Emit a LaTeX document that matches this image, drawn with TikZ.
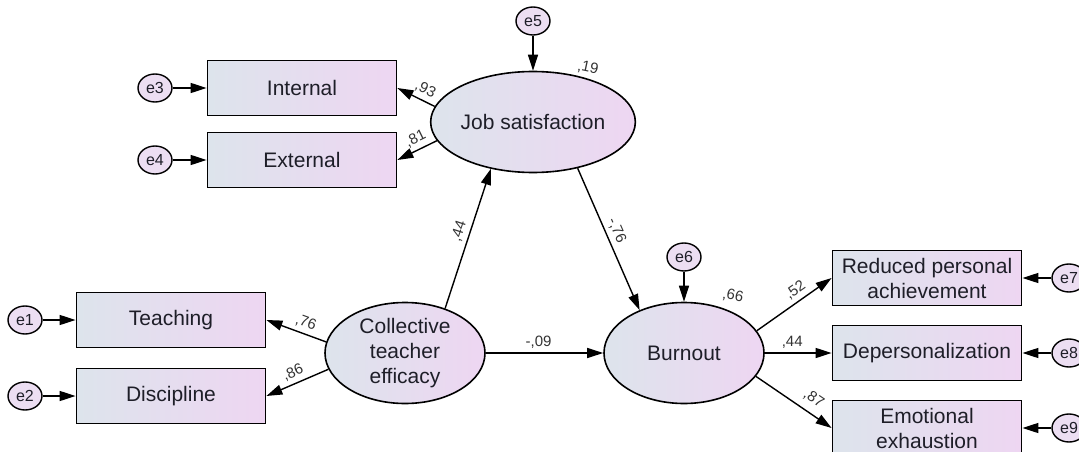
\documentclass[tikz,border=0pt]{standalone}
\usepackage{fontspec}
\setmainfont{Liberation Sans}
\usetikzlibrary{shapes.geometric,arrows.meta}
\definecolor{shadel}{RGB}{221,228,236}
\definecolor{shader}{RGB}{238,214,242}
\definecolor{errfill}{RGB}{236,222,242}
\definecolor{ink}{RGB}{30,30,40}

\begin{document}
\begin{tikzpicture}[x=1pt,y=-1pt,
    obs/.style={draw,line width=1.8pt,left color=shadel,right color=shader,
      minimum width=189pt,minimum height=55pt,align=center,text=ink,
      font=\fontsize{21}{25}\selectfont},
    lat/.style={ellipse,draw,line width=1.6pt,left color=shadel,right color=shader,
      minimum width=160pt,minimum height=101pt,inner sep=0pt,align=center,text=ink,
      font=\fontsize{21}{25}\selectfont},
    err/.style={ellipse,draw,line width=1.4pt,fill=errfill,minimum width=34pt,
      minimum height=28pt,inner sep=1pt,text=ink,font=\fontsize{16}{16}\selectfont},
    arr/.style={-{Triangle[length=16pt,width=10pt]},line width=1.4pt},
    lab/.style={font=\fontsize{15}{15}\selectfont,text=black!80,inner sep=4pt}]
  \useasboundingbox (0,0) rectangle (1079,452);

  \node[obs] (IN) at (302,88) {Internal};
  \node[obs] (EX) at (302,160) {External};
  \node[obs] (TE) at (171,320) {Teaching};
  \node[obs] (DI) at (171,396) {Discipline};
  \node[obs] (RPA) at (927,278) {Reduced personal\\achievement};
  \node[obs] (DP) at (927,353) {Depersonalization};
  \node[obs] (EE) at (927,428) {Emotional\\exhaustion};

  \node[lat] (JS) at (533,122) {Job satisfaction};
  \node[lat] (CTE) at (405,353) {Collective\\teacher\\efficacy};
  \node[lat] (BO) at (684,353) {Burnout};

  \node[err] (e1) at (25,320) {e1};
  \node[err] (e2) at (25,396) {e2};
  \node[err] (e3) at (155,88) {e3};
  \node[err] (e4) at (155,160) {e4};
  \node[err] (e5) at (533,21) {e5};
  \node[err] (e6) at (684,257) {e6};
  \node[err] (e7) at (1069,278) {e7};
  \node[err] (e8) at (1069,353) {e8};
  \node[err] (e9) at (1069,428) {e9};

  \node[lab,rotate=-12] (r2JS) at (588,68) {,19};
  \node[lab,rotate=-12] (r2BO) at (733,296) {,66};

  \draw[arr] (e1) -- (TE);
  \draw[arr] (e2) -- (DI);
  \draw[arr] (e3) -- (IN);
  \draw[arr] (e4) -- (EX);
  \draw[arr] (e5) -- (JS);
  \draw[arr] (e6) -- (BO);
  \draw[arr] (e7) -- (RPA);
  \draw[arr] (e8) -- (DP);
  \draw[arr] (e9) -- (EE);

  \draw[arr] (JS.171) -- (IN.east) node[lab,pos=0.38,above,sloped] {,93};
  \draw[arr] (JS.191) -- (EX.east) node[lab,pos=0.42,above,sloped] {,81};
  \draw[arr] (CTE.172) -- (TE.east) node[lab,pos=0.4,above,sloped] {,76};
  \draw[arr] (CTE.192) -- (DI.east) node[lab,pos=0.5,above,sloped] {,86};
  \draw[arr] (CTE.48) -- (JS.228) node[lab,pos=0.53,above,sloped] {,44};
  \draw[arr] (JS.314) -- (BO.136) node[lab,pos=0.47,above,sloped] {-,76};
  \draw[arr] (CTE) -- (BO) node[lab,pos=0.45,above] {-,09};
  \draw[arr] (BO.17) -- (RPA.west) node[lab,pos=0.6,above,sloped] {,52};
  \draw[arr] (BO) -- (DP) node[lab,pos=0.41,above] {,44};
  \draw[arr] (BO.-18) -- (EE.west) node[lab,pos=0.66,above,sloped,inner sep=7pt] {,87};
\end{tikzpicture}
\end{document}
